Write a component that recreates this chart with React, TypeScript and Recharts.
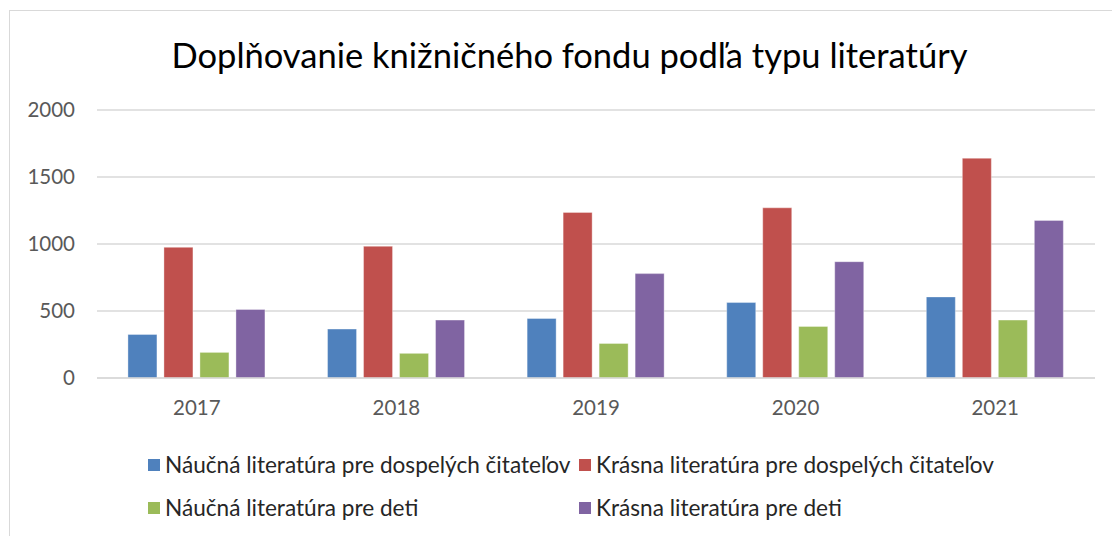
import { BarChart, Bar, XAxis, YAxis, CartesianGrid } from 'recharts'

const YEARS = ['2017', '2018', '2019', '2020', '2021']
const NAUCNA_DOSPELI = [325, 365, 444, 563, 605]
const KRASNA_DOSPELI = [975, 983, 1236, 1270, 1640]
const NAUCNA_DETI = [191, 184, 258, 385, 432]
const KRASNA_DETI = [511, 432, 779, 868, 1176]
const Y_TICKS = [0, 500, 1000, 1500, 2000]

const SERIES = [
  { key: 'nd', name: 'Náučná literatúra pre dospelých čitateľov', color: '#4f81bd' },
  { key: 'kd', name: 'Krásna literatúra pre dospelých čitateľov', color: '#c0504d' },
  { key: 'nk', name: 'Náučná literatúra pre deti', color: '#9bbb59' },
  { key: 'kk', name: 'Krásna literatúra pre deti', color: '#8064a2' },
]

const data = YEARS.map((year, i) => ({
  year,
  nd: NAUCNA_DOSPELI[i],
  kd: KRASNA_DOSPELI[i],
  nk: NAUCNA_DETI[i],
  kk: KRASNA_DETI[i],
}))

const FONT = "Lato, 'Open Sans', sans-serif"

// ── legend in a 2×2 grid like the Excel original ──
function GridLegend() {
  return (
    <div style={{ position: 'absolute', left: 0, top: 452, width: 1112, height: 80, fontFamily: FONT, fontSize: 22.6, color: '#262626' }}>
      {SERIES.map((s, i) => (
        <div
          key={s.key}
          style={{
            position: 'absolute',
            left: i % 2 === 0 ? 148 : 579,
            top: i < 2 ? 0 : 43,
            display: 'flex',
            alignItems: 'center',
            whiteSpace: 'nowrap',
            lineHeight: '26px',
          }}
        >
          <span style={{ width: 12, height: 12, background: s.color, marginRight: 5, display: 'inline-block' }} />
          {s.name}
        </div>
      ))}
    </div>
  )
}

export default function App() {
  return (
    <div style={{ position: 'absolute', left: 0, top: 0, width: 1112, height: 536, background: '#fff', overflow: 'hidden' }}>
      {/* chart frame */}
      <div style={{ position: 'absolute', left: 9, top: 10, width: 1200, height: 600, border: '1px solid #d9d9d9' }} />

      <div
        style={{
          position: 'absolute', left: 0, top: 33, width: 1139, textAlign: 'center',
          fontFamily: FONT, fontSize: 34.5, color: '#000', lineHeight: '44px',
        }}
      >
        Doplňovanie knižničného fondu podľa typu literatúry
      </div>

      <div style={{ position: 'absolute', left: 0, top: 0 }}>
        <BarChart
          width={1112}
          height={536}
          data={data}
          margin={{ top: 110, right: 17, bottom: 128, left: 37 }}
          barCategoryGap="15.5%"
          barGap={7}
        >
          <CartesianGrid vertical={false} stroke="#d9d9d9" strokeWidth={1.5} />
          <XAxis
            dataKey="year"
            height={30}
            tickLine={false}
            tickSize={0}
            tickMargin={22}
            axisLine={{ stroke: '#d9d9d9', strokeWidth: 1.5 }}
            tick={{ fontFamily: FONT, fontSize: 20.5, fill: '#595959' }}
          />
          <YAxis
            width={60}
            domain={[0, 2000]}
            ticks={Y_TICKS}
            tickLine={false}
            tickSize={0}
            tickMargin={22}
            axisLine={false}
            tick={{ fontFamily: FONT, fontSize: 20.5, fill: '#595959' }}
          />
          {SERIES.map(s => (
            <Bar
              key={s.key}
              dataKey={s.key}
              name={s.name}
              fill={s.color}
              stroke="rgba(255,255,255,0.35)"
              strokeWidth={1}
              isAnimationActive={false}
            />
          ))}
        </BarChart>
      </div>

      <GridLegend />
    </div>
  )
}
